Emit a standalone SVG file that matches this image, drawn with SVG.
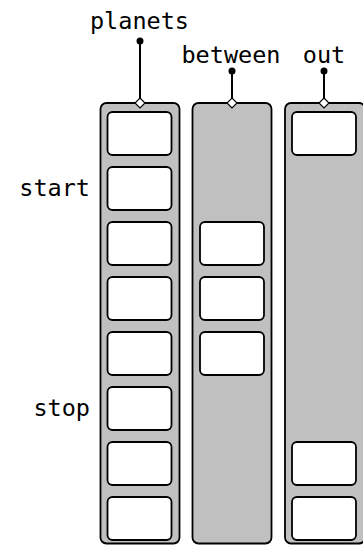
<svg xmlns="http://www.w3.org/2000/svg" width="363" height="546" viewBox="0 0 363 546">
<style>
.col{fill:#c0c0c0;stroke:#000;stroke-width:1.8}
.cell{fill:#fff;stroke:#000;stroke-width:1.8}
.lbl{font-family:"DejaVu Sans Mono",monospace;font-size:23.5px;fill:#000}
.pin{stroke:#000;stroke-width:2;fill:none}
.dot{fill:#000}
.dia{fill:#fff;stroke:#000;stroke-width:1.2}
</style>
<rect width="363" height="546" fill="#fff"/>
<g id="planets">
<rect class="col" x="100.5" y="103" width="79" height="440.5" rx="6"/>
<rect class="cell" x="107.5" y="112" width="64" height="43" rx="5"/>
<rect class="cell" x="107.5" y="167" width="64" height="43" rx="5"/>
<rect class="cell" x="107.5" y="222" width="64" height="43" rx="5"/>
<rect class="cell" x="107.5" y="277" width="64" height="43" rx="5"/>
<rect class="cell" x="107.5" y="332" width="64" height="43" rx="5"/>
<rect class="cell" x="107.5" y="387" width="64" height="43" rx="5"/>
<rect class="cell" x="107.5" y="442" width="64" height="43" rx="5"/>
<rect class="cell" x="107.5" y="497" width="64" height="43" rx="5"/>
<text class="lbl" x="139.5" y="29" text-anchor="middle">planets</text>
</g>
<g id="between">
<rect class="col" x="192.5" y="103" width="79" height="440.5" rx="6"/>
<rect class="cell" x="200" y="222" width="64" height="43" rx="5"/>
<rect class="cell" x="200" y="277" width="64" height="43" rx="5"/>
<rect class="cell" x="200" y="332" width="64" height="43" rx="5"/>
<text class="lbl" x="231" y="63" text-anchor="middle">between</text>
</g>
<g id="out">
<rect class="col" x="285" y="103" width="80" height="440.5" rx="6"/>
<rect class="cell" x="292" y="112" width="64" height="43" rx="5"/>
<rect class="cell" x="292" y="442" width="64" height="43" rx="5"/>
<rect class="cell" x="292" y="497" width="64" height="43" rx="5"/>
<text class="lbl" x="324" y="63" text-anchor="middle">out</text>
</g>
<g id="start"><text class="lbl" x="90" y="196" text-anchor="end">start</text></g>
<g id="stop"><text class="lbl" x="90" y="416" text-anchor="end">stop</text></g>
<g id="connectors">
<line class="pin" x1="140" y1="41" x2="140" y2="98"/>
<circle class="dot" cx="140" cy="41" r="3.5"/>
<path class="dia" d="M140 98 L145 103 L140 108 L135 103 Z"/>
<line class="pin" x1="232" y1="71" x2="232" y2="98"/>
<circle class="dot" cx="232" cy="71" r="3.5"/>
<path class="dia" d="M232 98 L237 103 L232 108 L227 103 Z"/>
<line class="pin" x1="324" y1="71" x2="324" y2="98"/>
<circle class="dot" cx="324" cy="71" r="3.5"/>
<path class="dia" d="M324 98 L329 103 L324 108 L319 103 Z"/>
</g>
</svg>
